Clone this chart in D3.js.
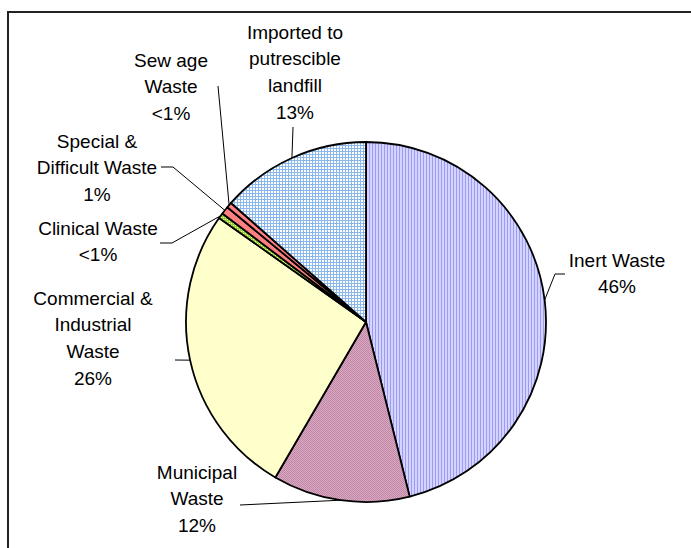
<!DOCTYPE html>
<html>
<head>
<meta charset="utf-8">
<script src="https://cdn.jsdelivr.net/npm/d3@7"></script>
<style>
  html, body { margin: 0; padding: 0; background: #fff; }
  svg { display: block; }
  text { font-family: "Liberation Sans", Arial, sans-serif; fill: #000; }
</style>
</head>
<body>
<svg id="chart" width="691" height="548"></svg>
<script>
// ---- data ----
const categories = ["Inert Waste", "Municipal Waste", "Commercial & Industrial Waste",
  "Clinical Waste", "Special & Difficult Waste", "Sewage Waste", "Imported to putrescible landfill"];
const values = [46.1, 12.3, 26.4, 0.5, 0.7, 0.5, 13.5];
const percentLabels = ["46%", "12%", "26%", "<1%", "1%", "<1%", "13%"];
const labelLines = [
  ["Inert Waste"],
  ["Municipal", "Waste"],
  ["Commercial &", "Industrial", "Waste"],
  ["Clinical Waste"],
  ["Special &", "Difficult Waste"],
  ["Sew age", "Waste"],
  ["Imported to", "putrescible", "landfill"]
];

// ---- layout (positions only) ----
const W = 691, H = 548;
const cx = 366, cy = 322, R = 180;
const lineH = 26.8;
const labelLayout = [
  { x: 617, y: 260, leader: [[565, 274], [555, 274]] },
  { x: 197, y: 472, leader: [[240, 505]] },
  { x: 93,  y: 298, leader: [[175, 360]] },
  { x: 98,  y: 228, leader: [[160, 243], [172, 243]] },
  { x: 97,  y: 141, leader: [[161, 167], [173, 167]] },
  { x: 171, y: 60,  leader: [[218, 86]] },
  { x: 295, y: 32,  leader: [[293, 127]] }
];

const svg = d3.select("#chart");
const defs = svg.append("defs");

// patterns
function stripes(id, bg, fg) {
  const p = defs.append("pattern").attr("id", id).attr("patternUnits", "userSpaceOnUse")
    .attr("width", 3).attr("height", 3);
  p.append("rect").attr("width", 3).attr("height", 3).attr("fill", bg);
  p.append("rect").attr("x", 0).attr("width", 1).attr("height", 3).attr("fill", fg);
}
function grid(id, bg, fg, size) {
  const p = defs.append("pattern").attr("id", id).attr("patternUnits", "userSpaceOnUse")
    .attr("width", size).attr("height", size);
  p.append("rect").attr("width", size).attr("height", size).attr("fill", bg);
  p.append("rect").attr("width", 1).attr("height", size).attr("fill", fg);
  p.append("rect").attr("width", size).attr("height", 1).attr("fill", fg);
}
function checker(id, a, b) {
  const p = defs.append("pattern").attr("id", id).attr("patternUnits", "userSpaceOnUse")
    .attr("width", 2).attr("height", 2);
  p.append("rect").attr("width", 2).attr("height", 2).attr("fill", a);
  p.append("rect").attr("width", 1).attr("height", 1).attr("fill", b);
  p.append("rect").attr("x", 1).attr("y", 1).attr("width", 1).attr("height", 1).attr("fill", b);
}
stripes("pInert", "#d4d4ff", "#9c9cf4");
checker("pMun", "#d9a9c2", "#c088a6");
grid("pClin", "#eaffb0", "#99cc33", 2);
grid("pImp", "#ffffff", "#8ab8ec", 3);

const fills = ["url(#pInert)", "url(#pMun)", "#ffffcc", "url(#pClin)", "#ff8080", "#ff8080", "url(#pImp)"];

// frame
svg.append("rect").attr("x", 8).attr("y", 12).attr("width", W + 20).attr("height", H + 20)
  .attr("fill", "none").attr("stroke", "#222").attr("stroke-width", 2);

const pie = d3.pie().sort(null).value(d => d)(values);
const arc = d3.arc().innerRadius(0).outerRadius(R);

const g = svg.append("g").attr("transform", `translate(${cx},${cy})`);
g.selectAll("path").data(pie).join("path")
  .attr("d", arc)
  .attr("fill", (d, i) => fills[i])
  .attr("stroke", "#000").attr("stroke-width", 1.8).attr("stroke-linejoin", "round");

// leader lines
const edge = d => {
  const a = (d.startAngle + d.endAngle) / 2;
  return [cx + R * Math.sin(a), cy - R * Math.cos(a)];
};
pie.forEach((d, i) => {
  const pts = labelLayout[i].leader.concat([edge(d)]);
  svg.append("path").attr("d", d3.line()(pts))
    .attr("fill", "none").attr("stroke", "#000").attr("stroke-width", 1);
});

// labels
pie.forEach((d, i) => {
  const L = labelLayout[i];
  const lines = labelLines[i].concat([percentLabels[i]]);
  const t = svg.append("text").attr("text-anchor", "middle").attr("font-size", 19);
  lines.forEach((s, k) => {
    t.append("tspan").attr("x", L.x).attr("y", L.y + k * lineH).attr("dy", "0.35em").text(s);
  });
});
</script>
</body>
</html>
